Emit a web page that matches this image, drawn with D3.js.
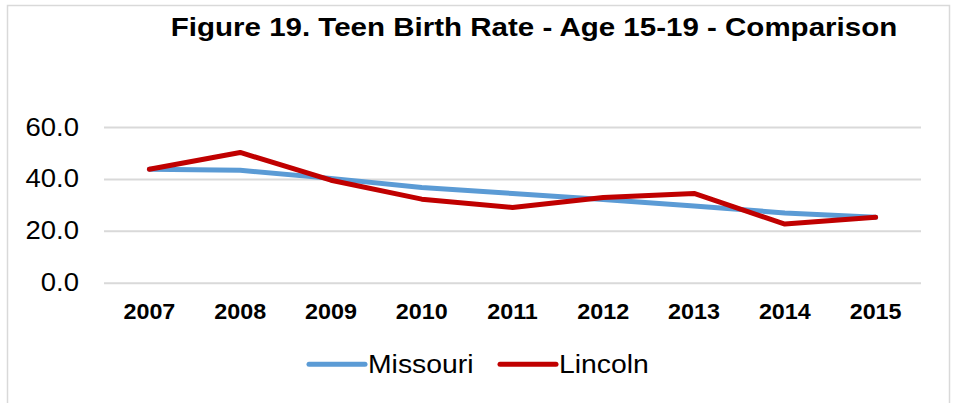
<!DOCTYPE html>
<html><head><meta charset="utf-8">
<script src="https://cdn.jsdelivr.net/npm/d3@7"></script>
<style>body{margin:0;background:#fff}svg{display:block}text{font-family:"Liberation Sans",Arial,sans-serif}</style>
</head><body><svg id="c" width="956" height="403"></svg>
<script>
const years = ["2007","2008","2009","2010","2011","2012","2013","2014","2015"];
const missouri = [43.7, 43.3, 40.2, 36.7, 34.4, 32.1, 29.6, 26.9, 25.2];
const lincoln  = [43.7, 50.2, 39.5, 32.2, 29.0, 32.8, 34.4, 22.6, 25.2];
const yTicks = [0, 20, 40, 60];
const title = "Figure 19. Teen Birth Rate - Age 15-19 - Comparison";
const seriesNames = ["Missouri", "Lincoln"];
const colors = ["#5B9BD5", "#C00000"];

const svg = d3.select("#c");
svg.append("rect").attr("x",7.5).attr("y",5.5).attr("width",942).attr("height",420)
  .attr("fill","#fff").attr("stroke","#D9D9D9").attr("stroke-width",1.5);

const x = d3.scaleBand().domain(years).range([104, 921]);
const y = d3.scaleLinear().domain([0, 60]).range([282.7, 127]);

function stretch(sel, f){
  sel.each(function(){
    const w = this.getComputedTextLength();
    d3.select(this).attr("textLength", w*f).attr("lengthAdjust","spacingAndGlyphs");
  });
}

const t = svg.append("text").attr("x",534).attr("y",36).attr("text-anchor","middle")
  .attr("font-size",26).attr("font-weight","bold").attr("fill","#000").text(title);
stretch(t, 1.135);

const grid = svg.append("g")
  .call(d3.axisLeft(y).tickValues(yTicks).tickSize(-(921-104)).tickFormat(d3.format(".1f")))
  .attr("transform","translate(104,0)");
grid.select(".domain").remove();
grid.selectAll(".tick line").attr("stroke","#D9D9D9").attr("stroke-width",2);
grid.selectAll(".tick text").attr("x",-25).attr("font-size",25).attr("fill","#000")
  .attr("font-family","'Liberation Sans',Arial,sans-serif");
stretch(grid.selectAll(".tick text"), 1.1);

const xa = svg.append("g").attr("transform","translate(0,282.7)")
  .call(d3.axisBottom(x).tickSize(0));
xa.select(".domain").remove();
xa.selectAll(".tick text").attr("dy",0).attr("y",36.5).attr("font-size",22).attr("font-weight","bold")
  .attr("fill","#000").attr("font-family","'Liberation Sans',Arial,sans-serif");
stretch(xa.selectAll(".tick text"), 1.06);

const line = d3.line().x((d,i)=>x(years[i])+x.bandwidth()/2).y(d=>y(d));
[missouri, lincoln].forEach((s,k)=>{
  svg.append("path").datum(s).attr("d",line).attr("fill","none")
    .attr("stroke",colors[k]).attr("stroke-width",5).attr("stroke-linejoin","round").attr("stroke-linecap","round");
});

const legX = [309, 500];
seriesNames.forEach((n,k)=>{
  const g = svg.append("g");
  g.append("line").attr("x1",legX[k]).attr("x2",legX[k]+56).attr("y1",364.3).attr("y2",364.3)
    .attr("stroke",colors[k]).attr("stroke-width",5).attr("stroke-linecap","round");
  const tx = g.append("text").attr("x",legX[k]+59).attr("y",373).attr("font-size",26).attr("fill","#000").text(n);
  stretch(tx, 1.09);
});
</script></body></html>
